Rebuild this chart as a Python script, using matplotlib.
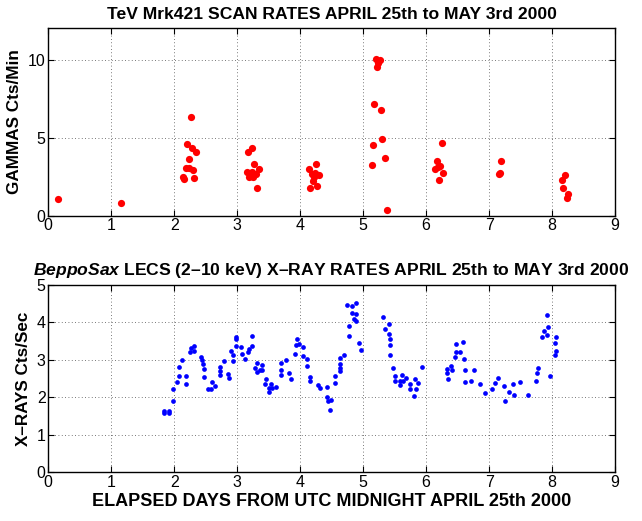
import matplotlib
matplotlib.use('Agg')
import matplotlib.pyplot as plt

plt.rcParams['font.family'] = ['Liberation Sans', 'DejaVu Sans']
plt.rcParams['mathtext.fontset'] = 'custom'
plt.rcParams['mathtext.it'] = 'Liberation Sans:italic:bold'
plt.rcParams['mathtext.rm'] = 'Liberation Sans:bold'

# TeV gamma scan rates (days, counts/min)
tev_days = [0.16, 1.15,
            2.26, 2.20, 2.29, 2.34, 2.24, 2.19, 2.23, 2.30, 2.14, 2.16, 2.32,
            3.23, 3.17, 3.27, 3.35, 3.16, 3.23, 3.30, 3.19, 3.25, 3.31, 3.20,
            4.14, 4.25, 4.18, 4.30, 4.22, 4.20, 4.27, 4.15, 4.24,
            5.20, 5.26, 5.24, 5.22, 5.17, 5.28, 5.30, 5.15, 5.34, 5.14, 5.38,
            6.25, 6.17, 6.22, 6.14, 6.27, 6.20, 6.19,
            7.19, 7.16, 7.17,
            8.20, 8.16, 8.18, 8.26, 8.24]
tev_rate = [1.05, 0.79,
            6.32, 4.57, 4.34, 4.08, 3.61, 3.08, 3.08, 2.95, 2.46, 2.37, 2.44,
            4.34, 4.06, 3.31, 2.97, 2.80, 2.82, 2.67, 2.50, 2.50, 1.79, 2.71,
            2.99, 3.29, 2.65, 2.59, 2.50, 2.24, 1.92, 1.79, 2.71,
            10.02, 9.96, 9.76, 9.49, 7.14, 6.79, 4.89, 4.53, 3.68, 3.23, 0.34,
            4.64, 3.50, 3.21, 3.01, 2.71, 2.26, 3.14,
            3.48, 2.67, 2.74,
            2.61, 2.26, 1.75, 1.41, 1.13]

# BeppoSax LECS x-ray rates (days, counts/sec)
xray_days = [1.84, 1.91, 1.84, 1.91, 1.98, 1.98, 2.05, 2.07, 2.07, 2.13,
             2.19, 2.18, 2.25, 2.27, 2.32, 2.32, 2.42, 2.44, 2.45, 2.47,
             2.47, 2.53, 2.58, 2.60, 2.65, 2.72, 2.72, 2.72, 2.79, 2.86,
             2.87, 2.90, 2.93, 2.94, 2.98, 2.98, 2.98, 3.06, 3.07, 3.13,
             3.17, 3.19, 3.23, 3.23, 3.29, 3.31, 3.31, 3.36, 3.39, 3.39,
             3.44, 3.45, 3.51, 3.51, 3.53, 3.56, 3.62, 3.70, 3.70, 3.70,
             3.77, 3.82, 3.86, 3.91, 3.93, 3.95, 3.98, 4.04, 4.04, 4.11,
             4.11, 4.15, 4.16, 4.29, 4.32, 4.42, 4.42, 4.44, 4.49, 4.48,
             4.55, 4.56, 4.63, 4.63, 4.63, 4.63, 4.70, 4.77, 4.77, 4.75,
             4.83, 4.89, 4.82, 4.89, 4.85, 4.89, 4.94, 4.96,
             5.32, 5.35, 5.41, 5.41, 5.42, 5.42, 5.42, 5.47, 5.50, 5.51,
             5.58, 5.58, 5.62, 5.63, 5.68, 5.74, 5.75, 5.80, 5.82, 5.84,
             5.87, 5.93,
             6.33, 6.33, 6.34, 6.40, 6.41, 6.46, 6.47, 6.48, 6.54, 6.59,
             6.60, 6.61, 6.62, 6.72, 6.76, 6.85, 6.93, 7.04, 7.10, 7.14,
             7.24, 7.25, 7.32, 7.38, 7.40, 7.49, 7.61, 7.74, 7.76, 7.78,
             7.84, 7.87, 7.92, 7.92, 7.93, 7.97, 8.05, 8.06, 8.05, 8.07]
xray_rate = [1.64, 1.64, 1.58, 1.58, 1.90, 2.23, 2.40, 2.56, 2.81, 3.00,
             2.58, 2.35, 3.22, 3.33, 3.38, 3.24, 3.09, 3.01, 2.90, 2.75,
             2.54, 2.22, 2.22, 2.40, 2.31, 2.82, 2.71, 2.59, 2.98, 2.63,
             2.53, 3.24, 2.98, 3.12, 3.38, 3.55, 3.60, 3.35, 3.17, 3.03,
             3.21, 3.30, 3.38, 3.65, 2.79, 2.93, 2.68, 2.74, 2.87, 2.72,
             2.37, 2.48, 2.24, 2.13, 2.37, 2.24, 2.28, 2.91, 2.73, 2.60,
             3.01, 2.64, 2.48, 3.16, 3.39, 3.55, 3.43, 3.34, 3.11, 3.03,
             2.85, 2.54, 2.43, 2.32, 2.25, 2.29, 2.00, 1.90, 1.92, 1.65,
             2.38, 2.58, 3.05, 2.88, 2.79, 2.70, 3.13, 3.63, 3.90, 4.47,
             4.44, 4.52, 4.26, 4.23, 4.09, 4.05, 3.45, 3.27,
             4.14, 3.83, 3.97, 3.70, 3.57, 3.39, 3.13, 2.79, 2.57, 2.44,
             2.34, 2.45, 2.59, 2.44, 2.52, 2.36, 2.23, 2.04, 2.50, 2.23,
             2.38, 2.81,
             2.76, 2.65, 2.49, 2.84, 2.73, 3.09, 3.42, 3.22, 3.22, 3.48,
             3.03, 2.73, 2.41, 2.43, 2.74, 2.36, 2.12, 2.22, 2.39, 2.51,
             2.31, 1.91, 2.14, 2.35, 2.05, 2.42, 2.07, 2.45, 2.65, 2.79,
             3.61, 3.76, 4.19, 3.67, 3.88, 2.58, 3.12, 3.25, 3.44, 3.62]

fig = plt.figure(figsize=(6.42, 5.21), dpi=100)
ax1 = fig.add_axes([0.0752, 0.586, 0.8828, 0.3597])
ax2 = fig.add_axes([0.0752, 0.0935, 0.8828, 0.3595])

ax1.plot(tev_days, tev_rate, 'o', color='red', markersize=5.2, markeredgewidth=0)
ax2.plot(xray_days, xray_rate, 'o', color='blue', markersize=3.4, markeredgewidth=0)

for ax in (ax1, ax2):
    ax.set_xlim(0, 9)
    ax.set_xticks(range(10))
    ax.grid(True, linestyle=(0, (1, 3)), color='black', linewidth=0.6, alpha=0.7)
    ax.tick_params(direction='in', top=True, right=True, labelsize=11.5, length=4, pad=2)
    for s in ax.spines.values():
        s.set_linewidth(1.0)

ax1.set_ylim(0, 12)
ax1.set_yticks([0, 5, 10])
ax2.set_ylim(0, 5)
ax2.set_yticks(range(6))

ax1.set_title('TeV Mrk421 SCAN RATES APRIL 25th to MAY 3rd 2000',
              fontsize=12.6, fontweight='bold', pad=7)
ax2.set_title(r'$\it{BeppoSax}$ LECS (2–10 keV) X–RAY RATES APRIL 25th to MAY 3rd 2000',
              fontsize=12.6, fontweight='bold', pad=7)
ax1.set_ylabel('GAMMAS Cts/Min', fontsize=12.3, fontweight='bold', labelpad=4)
ax2.set_ylabel('X–RAYS Cts/Sec', fontsize=12.3, fontweight='bold', labelpad=4)
ax2.set_xlabel('ELAPSED DAYS FROM UTC MIDNIGHT APRIL 25th 2000',
               fontsize=13, fontweight='bold', labelpad=2)

fig.savefig('out.png', dpi=100)
